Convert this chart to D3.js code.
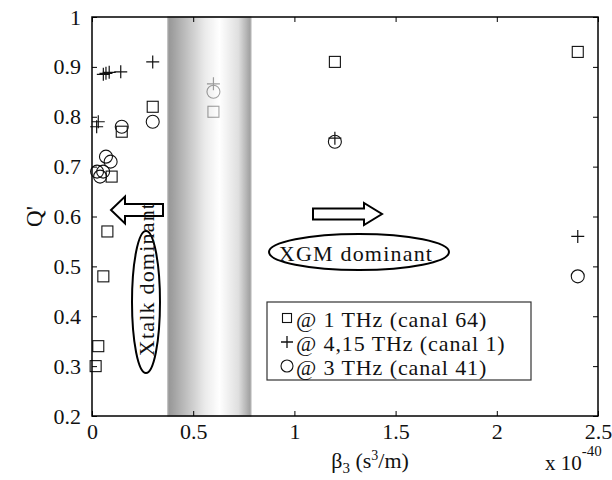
<!DOCTYPE html>
<html><head><meta charset="utf-8">
<script src="https://cdn.jsdelivr.net/npm/d3@7"></script>
<style>body{margin:0;background:#fff}</style>
</head><body><svg id="c" width="612" height="480"></svg>
<script>
// ---- data ----
const squareX = [0.018, 0.031, 0.056, 0.076, 0.097, 0.147, 0.30, 0.60, 1.20, 2.40];
const squareY = [0.30, 0.34, 0.48, 0.57, 0.68, 0.77, 0.82, 0.81, 0.91, 0.93];
const plusX   = [0.023, 0.031, 0.056, 0.069, 0.085, 0.142, 0.30, 0.60, 1.20, 2.40];
const plusY   = [0.78, 0.79, 0.885, 0.887, 0.889, 0.89, 0.91, 0.866, 0.757, 0.56];
const circleX = [0.025, 0.040, 0.055, 0.069, 0.092, 0.147, 0.30, 0.60, 1.20, 2.40];
const circleY = [0.69, 0.68, 0.69, 0.72, 0.71, 0.78, 0.79, 0.85, 0.75, 0.48];
const seriesLabels = ["@ 1 THz (canal 64)", "@ 4,15 THz (canal 1)", "@ 3 THz (canal 41)"];
const xTicks = [0, 0.5, 1, 1.5, 2, 2.5];
const xTickLabels = ["0", "0.5", "1", "1.5", "2", "2.5"];
const yTicks = [0.2, 0.3, 0.4, 0.5, 0.6, 0.7, 0.8, 0.9, 1];
const yTickLabels = ["0.2", "0.3", "0.4", "0.5", "0.6", "0.7", "0.8", "0.9", "1"];
const bandRange = [0.375, 0.785];
const annotations = ["XGM dominant", "Xtalk dominant"];

// ---- layout ----
const svg = d3.select("#c");
const FONT = "'Liberation Serif','Times New Roman',serif";
const x = d3.scaleLinear().domain([0, 2.5]).range([92, 598]);
const y = d3.scaleLinear().domain([0.2, 1]).range([416, 17]);
svg.append("rect").attr("width", 612).attr("height", 480).attr("fill", "#fff");

const defs = svg.append("defs");
const grad = defs.append("linearGradient").attr("id", "bandGrad").attr("x1", "0").attr("x2", "1").attr("y1", "0").attr("y2", "0");
[[0, "#555"], [0.12, "#7a7a7a"], [0.45, "#e0e0e0"], [0.62, "#ffffff"], [0.85, "#cccccc"], [1, "#626262"]]
  .forEach(([o, c]) => grad.append("stop").attr("offset", o).attr("stop-color", c));

const ink = "#111";
const sqS = 11, cR = 6.5, pH = 6.5;

function drawSquares(g, xs, ys, s) {
  g.selectAll(null).data(xs.map((v, i) => [v, ys[i]])).join("rect")
    .attr("x", d => x(d[0]) - s / 2).attr("y", d => y(d[1]) - s / 2)
    .attr("width", s).attr("height", s).attr("fill", "none").attr("stroke", ink).attr("stroke-width", 1.1);
}
function drawCircles(g, xs, ys, r) {
  g.selectAll(null).data(xs.map((v, i) => [v, ys[i]])).join("circle")
    .attr("cx", d => x(d[0])).attr("cy", d => y(d[1])).attr("r", r)
    .attr("fill", "none").attr("stroke", ink).attr("stroke-width", 1.1);
}
function drawPlus(g, xs, ys, h) {
  g.selectAll(null).data(xs.map((v, i) => [v, ys[i]])).join("path")
    .attr("d", d => { const cx = x(d[0]), cy = y(d[1]); return `M${cx - h},${cy}H${cx + h}M${cx},${cy - h}V${cy + h}`; })
    .attr("fill", "none").attr("stroke", ink).attr("stroke-width", 1.2);
}
const gm = svg.append("g");
drawSquares(gm, squareX, squareY, sqS);
drawPlus(gm, plusX, plusY, pH);
drawCircles(gm, circleX, circleY, cR);

// band overlay
svg.append("rect")
  .attr("x", x(bandRange[0])).attr("y", y(1)).attr("width", x(bandRange[1]) - x(bandRange[0])).attr("height", y(0.2) - y(1))
  .attr("fill", "url(#bandGrad)").attr("opacity", 0.62).attr("stroke", "#808080").attr("stroke-width", 1.2);

// axes
function styleAxis(g) {
  g.select(".domain").remove();
  g.selectAll("line").attr("stroke", "#000").attr("stroke-width", 1);
  g.selectAll("text").attr("font-family", FONT).attr("font-size", 22).attr("fill", "#111");
}
svg.append("g").attr("transform", `translate(0,${y(0.2)})`)
  .call(d3.axisBottom(x).tickValues(xTicks).tickFormat((d, i) => xTickLabels[i]).tickSizeInner(-5).tickSizeOuter(0).tickPadding(7)).call(styleAxis);
svg.append("g").attr("transform", `translate(0,${y(1)})`)
  .call(d3.axisTop(x).tickValues(xTicks).tickFormat("").tickSizeInner(-5).tickSizeOuter(0)).call(styleAxis);
svg.append("g").attr("transform", `translate(${x(0)},0)`)
  .call(d3.axisLeft(y).tickValues(yTicks).tickFormat((d, i) => yTickLabels[i]).tickSizeInner(-5).tickSizeOuter(0).tickPadding(11)).call(styleAxis);
svg.append("g").attr("transform", `translate(${x(2.5)},0)`)
  .call(d3.axisRight(y).tickValues(yTicks).tickFormat("").tickSizeInner(-5).tickSizeOuter(0)).call(styleAxis);
svg.append("rect").attr("x", x(0)).attr("y", y(1)).attr("width", x(2.5) - x(0)).attr("height", y(0.2) - y(1))
  .attr("fill", "none").attr("stroke", "#000").attr("stroke-width", 1.5);

// axis labels
svg.append("text").attr("transform", `translate(34,${y(0.6)}) rotate(-90)`).attr("text-anchor", "middle")
  .attr("dominant-baseline", "central")
  .attr("font-family", FONT).attr("font-size", 23).attr("fill", "#111").text("Q'");
const xl = svg.append("text").attr("x", 370).attr("y", 468).attr("text-anchor", "middle")
  .attr("font-family", FONT).attr("font-size", 22).attr("fill", "#111");
xl.append("tspan").text("β");
xl.append("tspan").attr("font-size", 15).attr("dy", 5).text("3");
xl.append("tspan").attr("dy", -5).text(" (s");
xl.append("tspan").attr("font-size", 14).attr("dy", -8).text("3");
xl.append("tspan").attr("dy", 8).text("/m)");
const xm = svg.append("text").attr("x", 545).attr("y", 470)
  .attr("font-family", FONT).attr("font-size", 21).attr("fill", "#111");
xm.append("tspan").text("x 10");
xm.append("tspan").attr("font-size", 15).attr("dy", -14).text("-40");

// arrows
function arrowPath(tailX, tipX, cy, shaftH, headH, headBase) {
  return `M${tailX},${cy - shaftH}L${headBase},${cy - shaftH}L${headBase},${cy - headH}L${tipX},${cy}L${headBase},${cy + headH}L${headBase},${cy + shaftH}L${tailX},${cy + shaftH}Z`;
}
svg.append("path").attr("d", arrowPath(163, 111, 210, 6, 13.5, 125)).attr("fill", "#fff").attr("stroke", "#000").attr("stroke-width", 2).attr("stroke-linejoin", "miter");
svg.append("path").attr("d", arrowPath(313, 382, 214, 5.5, 11, 364)).attr("fill", "#fff").attr("stroke", "#000").attr("stroke-width", 2);

// ellipses + annotation text
svg.append("ellipse").attr("cx", 359).attr("cy", 252).attr("rx", 90).attr("ry", 18)
  .attr("fill", "none").attr("stroke", "#000").attr("stroke-width", 2);
svg.append("text").attr("x", 356).attr("y", 253).attr("dominant-baseline", "central").attr("text-anchor", "middle")
  .attr("font-family", FONT).attr("font-size", 22).attr("letter-spacing", 1.2).attr("fill", "#111").text(annotations[0]);
svg.append("ellipse").attr("cx", 146).attr("cy", 302).attr("rx", 14).attr("ry", 71)
  .attr("fill", "none").attr("stroke", "#000").attr("stroke-width", 2);
svg.append("text").attr("transform", "translate(146,279) rotate(-90)").attr("dominant-baseline", "central").attr("text-anchor", "middle")
  .attr("font-family", FONT).attr("font-size", 22).attr("letter-spacing", 1.2).attr("fill", "#111").text(annotations[1]);

// legend
const lg = svg.append("g");
lg.append("rect").attr("x", 267).attr("y", 302).attr("width", 264).attr("height", 78)
  .attr("fill", "#fff").attr("stroke", "#333").attr("stroke-width", 1.2);
const rowY = [318, 342, 366];
const mx = 287;
lg.append("rect").attr("x", mx - 4.5).attr("y", rowY[0] - 4.5).attr("width", 9).attr("height", 9)
  .attr("fill", "none").attr("stroke", ink).attr("stroke-width", 1.1);
lg.append("path").attr("d", `M${mx - 6},${rowY[1]}H${mx + 6}M${mx},${rowY[1] - 6}V${rowY[1] + 6}`).attr("stroke", ink).attr("stroke-width", 1.3);
lg.append("circle").attr("cx", mx).attr("cy", rowY[2]).attr("r", 6).attr("fill", "none").attr("stroke", ink).attr("stroke-width", 1.1);
lg.selectAll(null).data(seriesLabels).join("text")
  .attr("x", 296).attr("y", (d, i) => rowY[i] + 1).attr("dominant-baseline", "central")
  .attr("font-family", FONT).attr("font-size", 22).attr("letter-spacing", 0.9).attr("fill", "#111").text(d => d);
</script></body></html>
